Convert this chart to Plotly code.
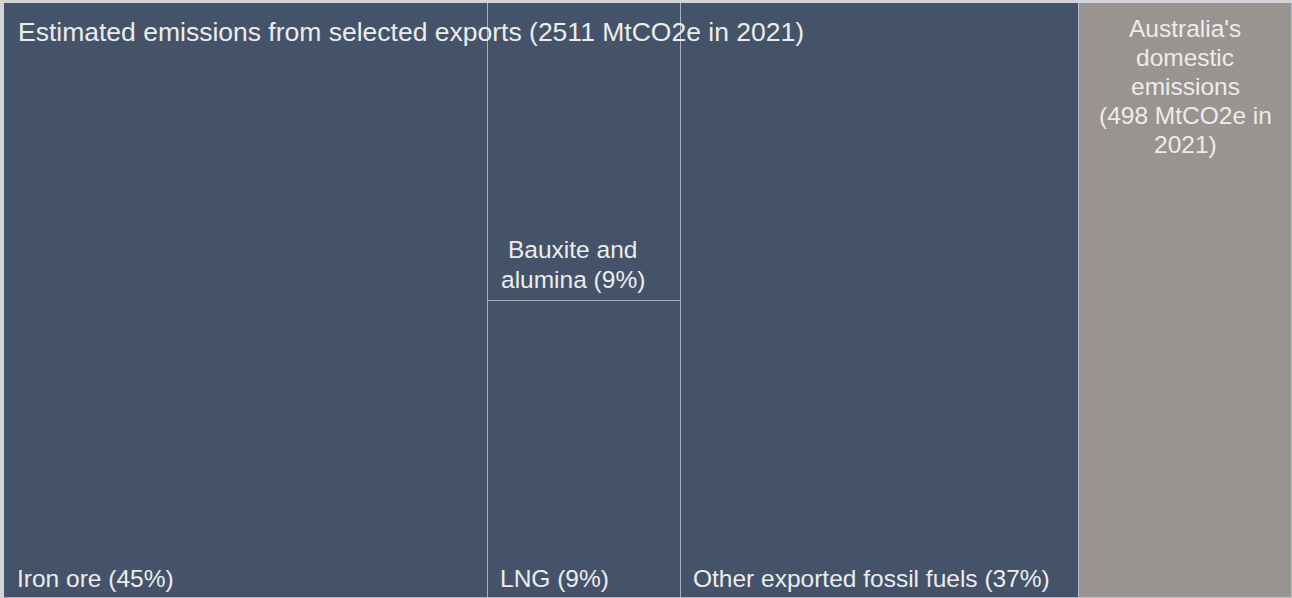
import plotly.graph_objects as go

# Emissions data (MtCO2e, 2021)
export_total = 2511
domestic_total = 498
export_labels = ["Iron ore", "Bauxite and alumina", "LNG", "Other exported fossil fuels"]
export_shares = [45, 9, 9, 37]  # percent of export emissions
export_title = "Estimated emissions from selected exports (2511 MtCO2e in 2021)"
domestic_lines = ["Australia's", "domestic", "emissions", "(498 MtCO2e in", "2021)"]
bauxite_lines = ["Bauxite and", "alumina (9%)"]

DARK = "#44536a"
GREY = "#99948f"
EDGE = "rgba(190,198,212,0.7)"
TEXT = "#ececec"
FONT = "Liberation Sans, Arial, sans-serif"

vals = {lab: export_total * s / 100 for lab, s in zip(export_labels, export_shares)}
iron, baux, lng, other = (vals[l] for l in export_labels)
mid_w = baux + lng

# Column layout: iron ore | bauxite over LNG | other fossil fuels | domestic
x_iron = 0
x_mid = x_iron + iron
x_other = x_mid + mid_w
x_dom = x_other + other
total = x_dom + domestic_total

cells = [
    # (left, width, base, height, colour)
    (x_iron, iron, 0, 1, DARK),
    (x_mid, mid_w, lng / mid_w, baux / mid_w, DARK),
    (x_mid, mid_w, 0, lng / mid_w, DARK),
    (x_other, other, 0, 1, DARK),
    (x_dom, domestic_total, 0, 1, GREY),
]

fig = go.Figure()
for left, w, base, h, col in cells:
    fig.add_trace(go.Bar(
        x=[left + w / 2], y=[h], base=[base], width=[w],
        marker=dict(color=col, line=dict(color=EDGE, width=1)),
        hoverinfo="skip", showlegend=False,
    ))

font = dict(family=FONT, size=24.5, color=TEXT)
LINE_GAP = 29  # px between stacked text lines

ann = [
    dict(x=0, y=1, xanchor="left", yanchor="top", xshift=12, yshift=-12,
         text=export_title, font=dict(family=FONT, size=26.5, color=TEXT)),
    dict(x=x_iron, y=0, xanchor="left", yanchor="bottom", xshift=11, yshift=4,
         text=f"{export_labels[0]} ({export_shares[0]}%)"),
    dict(x=x_mid, y=0, xanchor="left", yanchor="bottom", xshift=10, yshift=4,
         text=f"{export_labels[2]} ({export_shares[2]}%)"),
    dict(x=x_other, y=0, xanchor="left", yanchor="bottom", xshift=10, yshift=4,
         text=f"{export_labels[3]} ({export_shares[3]}%)"),
]

# two-line label above the bauxite/LNG split, centred on a common axis
n = len(bauxite_lines)
for i, line in enumerate(bauxite_lines):
    ann.append(dict(x=x_mid + mid_w * 0.42, y=lng / mid_w, xanchor="center", yanchor="middle",
                    xshift=4, yshift=21 + (n - 1 - i) * 30, text=line))

# stacked domestic label
for i, line in enumerate(domestic_lines):
    ann.append(dict(x=x_dom + domestic_total / 2, y=1, xanchor="center", yanchor="middle",
                    yshift=-25 - i * LINE_GAP, text=line))

for a in ann:
    a.setdefault("font", font)
    a.update(showarrow=False, xref="x", yref="y")
fig.update_layout(annotations=ann)

fig.update_layout(
    width=1292, height=598,
    margin=dict(l=4, r=0, t=3, b=0),
    paper_bgcolor="#d3d4d7", plot_bgcolor="#d3d4d7",
    barmode="overlay", bargap=0,
    xaxis=dict(range=[0, total], visible=False, fixedrange=True),
    yaxis=dict(range=[0, 1], visible=False, fixedrange=True),
)

fig.write_html("out.html")
